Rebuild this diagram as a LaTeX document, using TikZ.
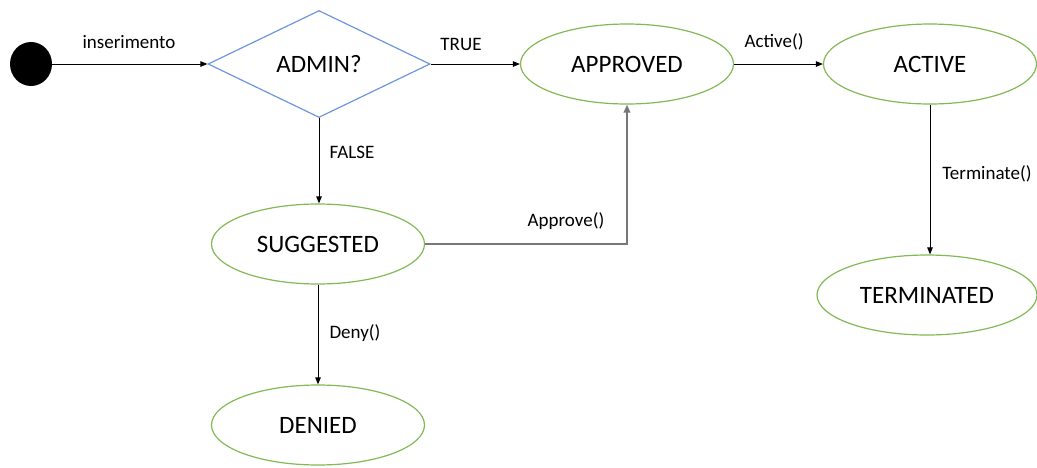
\documentclass[tikz,border=0pt]{standalone}
\usepackage{fontspec}
\setmainfont{Carlito}
\usetikzlibrary{shapes.geometric,arrows.meta}
\definecolor{stgreen}{RGB}{130,185,85}
\definecolor{dblue}{RGB}{110,150,220}
\definecolor{apgray}{RGB}{120,120,120}
\tikzset{
  state/.style={ellipse,draw=stgreen,line width=1.2pt,minimum width=#1,minimum height=80pt,inner sep=0pt,font=\fontsize{25}{27}\selectfont},
  state/.default=213pt,
  conn/.style={draw=black,line width=1pt,-{Triangle[length=7pt,width=5.5pt]}},
  lbl/.style={font=\fontsize{19}{21}\selectfont,inner sep=0pt}
}
\begin{document}
\begin{tikzpicture}[x=1pt,y=-1pt]
\useasboundingbox (0,0) rectangle (1037,467);
\node[ellipse,fill=black,minimum width=42pt,minimum height=44pt,inner sep=0pt] (init) at (31,64) {};
\node[diamond,draw=dblue,line width=1.2pt,minimum width=222pt,minimum height=107pt,inner sep=0pt,aspect=2.07,font=\fontsize{25}{27}\selectfont] (admin) at (319,64) {ADMIN?};
\node[state] (approved) at (627,64) {APPROVED};
\node[state] (active) at (930,64) {ACTIVE};
\node[state=220pt] (terminated) at (927,295) {TERMINATED};
\node[state] (suggested) at (318,244) {SUGGESTED};
\node[state] (denied) at (318,425) {DENIED};
\coordinate (corner) at (approved.south |- suggested.east);

\draw[conn] (init.east) -- (admin.west);
\draw[conn] (admin.east) -- (approved.west);
\draw[conn] (approved.east) -- (active.west);
\draw[conn] (active.south) -- (active.south |- terminated.north);
\draw[conn] (admin.south) -- (admin.south |- suggested.north);
\draw[conn] (suggested.south) -- (denied.north);
\draw[draw=apgray,line width=2pt,-{Triangle[length=8pt,width=6.5pt]}] (suggested.east) -- (corner) -- (approved.south);

\node[lbl] (l1) at (129,42) {inserimento};
\node[lbl] (l2) at (461,44) {TRUE};
\node[lbl] (l3) at (774,42) {Active()};
\node[lbl] (l4) at (987,174) {Terminate()};
\node[lbl] (l5) at (352,152) {FALSE};
\node[lbl] (l6) at (566,221) {Approve()};
\node[lbl] (l7) at (355,333) {Deny()};
\end{tikzpicture}
\end{document}
